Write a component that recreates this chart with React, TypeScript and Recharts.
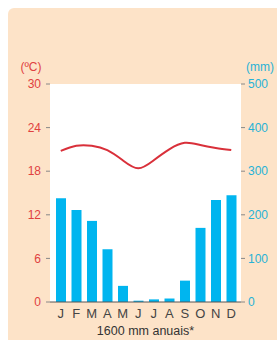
import { Bar, ComposedChart, Line, XAxis, YAxis, CartesianGrid } from "recharts"

const months = ["J", "F", "M", "A", "M", "J", "J", "A", "S", "O", "N", "D"]
const rainfall = [238, 211, 186, 121, 37, 3, 6, 8, 49, 170, 234, 245]
const temperature = [20.8, 21.5, 21.5, 20.9, 19.5, 18.4, 19.5, 21.0, 21.9, 21.6, 21.2, 20.9]
const tempTicks = [0, 6, 12, 18, 24, 30]
const rainTicks = [0, 100, 200, 300, 400, 500]

const data = months.map((m, i) => ({ month: m, rain: rainfall[i], temp: temperature[i] }))

const red = "#e0413f"
const cyan = "#27b2d6"
const font = "'Liberation Sans', Arial, sans-serif"

export default function App() {
  return (
    <div
      style={{
        position: "absolute",
        left: 8,
        top: 8,
        width: 269,
        height: 332,
        background: "#fde3c8",
        borderTopLeftRadius: 6,
        fontFamily: font,
      }}
    >
      <ComposedChart width={269} height={332} data={data} margin={{ top: 76, right: 0, bottom: 0, left: 0 }}>
        <CartesianGrid fill="#ffffff" stroke="none" horizontal={false} vertical={false} />
        <XAxis
          dataKey="month"
          interval={0}
          height={38}
          padding={{ left: 3, right: 2 }}
          tickLine={false}
          tickSize={0}
          tickMargin={7}
          axisLine={{ stroke: "#555" }}
          tick={{ fill: "#444", fontSize: 13, fontFamily: font }}
          label={{ value: "1600 mm anuais*", position: "insideBottom", offset: 5, fill: "#333", fontSize: 12.5, fontFamily: font }}
        />
        <YAxis
          yAxisId="t"
          orientation="left"
          width={42}
          domain={[0, 30]}
          ticks={tempTicks}
          axisLine={false}
          tickSize={4}
          tickMargin={5}
          tickLine={{ stroke: "#888" }}
          tick={{ fill: red, fontSize: 12, fontFamily: font }}
          label={{ value: "(ºC)", position: "top", offset: 13, dx: 2, fill: red, fontSize: 12, fontFamily: font }}
        />
        <YAxis
          yAxisId="r"
          orientation="right"
          width={36}
          domain={[0, 500]}
          ticks={rainTicks}
          axisLine={false}
          tickSize={4}
          tickMargin={3}
          tickLine={{ stroke: "#888" }}
          tick={{ fill: cyan, fontSize: 12, fontFamily: font }}
          label={{ value: "(mm)", position: "top", offset: 13, dx: 1, fill: cyan, fontSize: 12, fontFamily: font }}
        />
        <Bar yAxisId="r" dataKey="rain" fill="#00b5ef" barSize={10} isAnimationActive={false} />
        <Line
          yAxisId="t"
          type="natural"
          dataKey="temp"
          stroke="#d9303a"
          strokeWidth={2}
          dot={false}
          isAnimationActive={false}
        />
      </ComposedChart>
    </div>
  )
}
